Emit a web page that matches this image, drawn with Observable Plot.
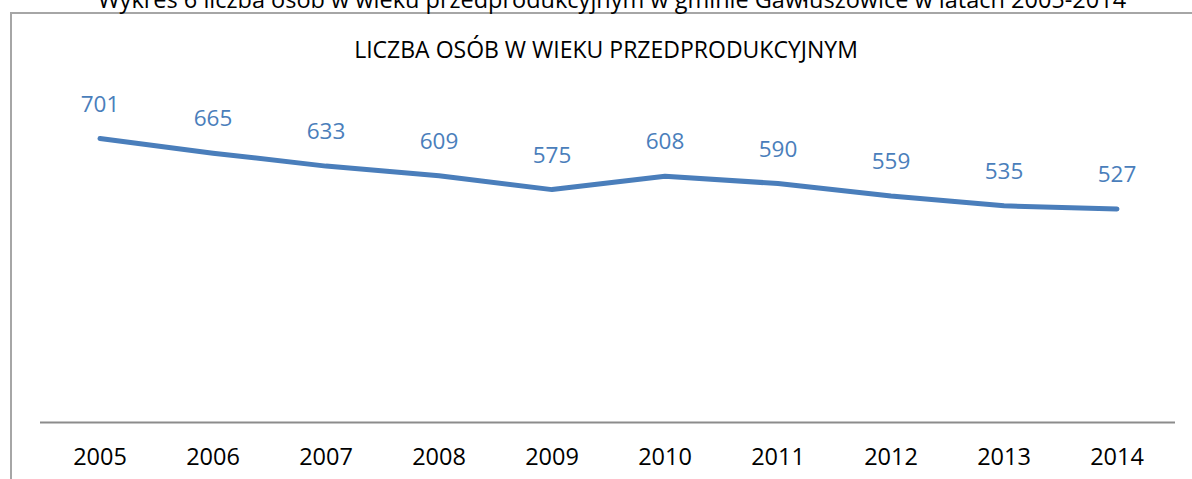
<!DOCTYPE html>
<html>
<head>
<meta charset="utf-8">
<script src="https://cdn.jsdelivr.net/npm/d3@7"></script>
<script src="https://cdn.jsdelivr.net/npm/@observablehq/plot@0.6"></script>
<style>
  html, body { margin: 0; padding: 0; background: #fff; overflow: hidden; }
  #wrap { position: relative; width: 1192px; height: 479px; }
  #frame { position: absolute; left: 10px; top: 12px; width: 1200px; height: 480px;
           border-left: 2px solid #a6a6a6; border-top: 2px solid #a6a6a6; box-sizing: border-box; }
  #chart { position: absolute; left: 0; top: 0; }
</style>
</head>
<body>
<div id="wrap"><div id="frame"></div><div id="chart"></div></div>
<script>
const years = ["2005","2006","2007","2008","2009","2010","2011","2012","2013","2014"];
const values = [701, 665, 633, 609, 575, 608, 590, 559, 535, 527];
const chartTitle = "LICZBA OSÓB W WIEKU PRZEDPRODUKCYJNYM";
const caption = "Wykres 6 liczba osób w wieku przedprodukcyjnym w gminie Gawłuszowice w latach 2005-2014";

const data = years.map((y, i) => ({year: y, value: values[i]}));
const font = "'Open Sans', sans-serif";

const plot = Plot.plot({
  width: 1192,
  height: 479,
  marginLeft: 40,
  marginRight: 17,
  marginTop: 100,
  marginBottom: 57,
  style: {fontFamily: font, background: "transparent", overflow: "visible"},
  x: {type: "band", domain: years, padding: 0, label: null},
  y: {domain: [0, 795], axis: null},
  marks: [
    Plot.ruleY([0], {stroke: "#8c8c8c", strokeWidth: 2}),
    Plot.axisX({tickSize: 0, tickPadding: 26, fontSize: 23.5, fill: "#000", label: null}),
    Plot.line(data, {x: "year", y: "value", stroke: "#4a7ebb", strokeWidth: 5, strokeLinecap: "round", strokeLinejoin: "round"}),
    Plot.text(data, {x: "year", y: "value", text: d => String(d.value), dy: -34, fontSize: 22.5, fill: "#4a7ebb", lineAnchor: "middle"}),
    Plot.text([chartTitle], {frameAnchor: "top", dy: -50, dx: -2, fontSize: 23, fill: "#000", lineAnchor: "middle", text: d => d}),
    Plot.text([caption], {frameAnchor: "top", dy: -93, dx: 4, fontSize: 23.5, fill: "#000", lineAnchor: "bottom", text: d => d})
  ]
});
document.getElementById("chart").appendChild(plot);
</script>
</body>
</html>
